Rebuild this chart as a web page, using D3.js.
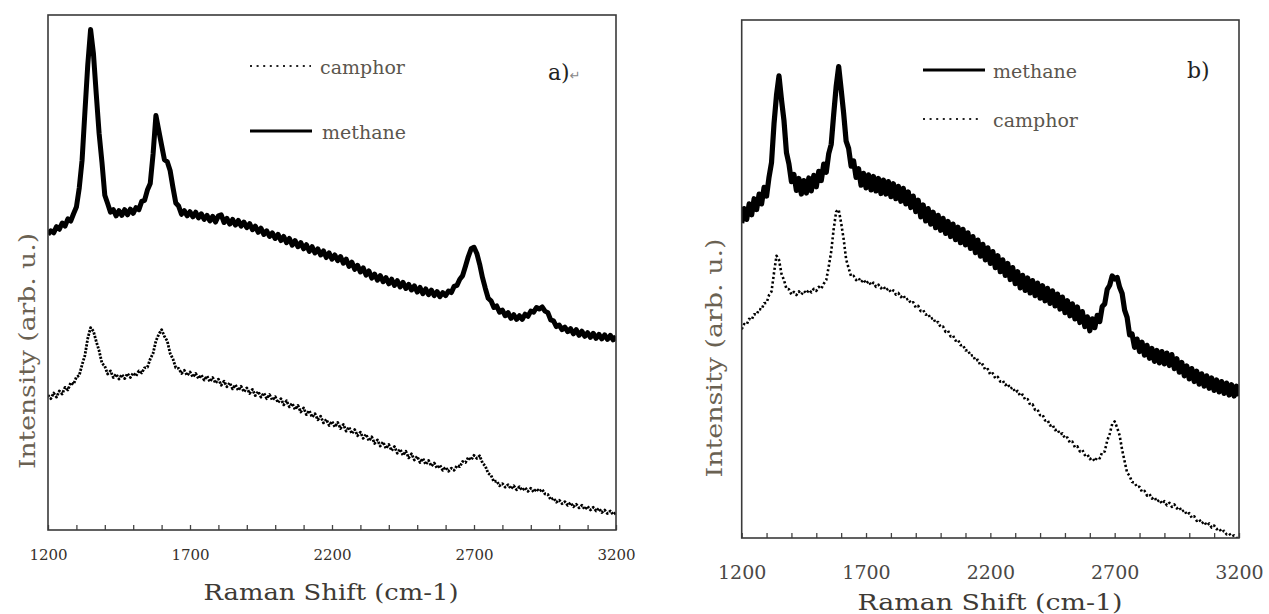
<!DOCTYPE html>
<html>
<head>
<meta charset="utf-8">
<script src="https://cdn.jsdelivr.net/npm/d3@7/dist/d3.min.js"></script>
<style>
  body { margin: 0; background: #fff; }
  svg { display: block; }
  text { font-family: "DejaVu Serif", "Liberation Serif", serif; }
</style>
</head>
<body>
<svg id="fig" width="1269" height="614"></svg>
<script>
// Raman shift sampling (cm-1), one reading every 10 cm-1
const shift = d3.range(1200, 3201, 10);
const majorTicks = [1200, 1700, 2200, 2700, 3200];
const minorTicks = d3.range(1200, 3201, 100);

// intensities, arbitrary units (0..1000 = frame height)
const methaneA = [
  574,581,577,589,584,596,590,604,600,614,
  627,664,718,812,903,972,925,846,770,714,
  650,634,617,622,610,620,611,622,612,623,
  615,626,622,638,640,660,673,730,805,776,
  747,719,715,698,665,635,629,613,620,610,
  618,608,617,606,614,603,611,600,609,598,
  610,612,597,605,594,603,592,601,590,598,
  587,595,583,590,578,586,574,581,570,577,
  566,574,562,570,558,566,553,562,550,558,
  546,554,541,550,538,546,534,542,529,538,
  526,534,523,531,518,526,512,520,506,514,
  501,509,495,503,489,497,485,494,482,490,
  478,487,475,484,472,481,469,477,466,474,
  462,471,459,468,457,466,455,463,453,461,
  455,464,461,473,475,487,494,512,531,546,
  549,537,516,490,469,450,445,432,435,423,
  427,416,422,411,418,409,416,409,419,415,
  425,423,432,429,433,425,422,408,406,395,
  398,389,394,385,391,381,389,378,386,376,
  383,374,382,372,380,371,379,370,378,369,
  376
];
const camphorA = [
  262,255,266,258,270,264,277,272,286,283,
  297,300,321,339,372,393,386,366,348,324,
  318,303,309,296,303,293,302,294,304,296,
  305,299,309,305,315,316,332,343,367,380,
  389,376,367,343,332,315,314,304,310,300,
  307,297,304,294,301,291,299,288,296,285,
  293,281,289,278,286,274,282,271,279,268,
  276,265,273,261,269,258,266,255,263,252,
  259,247,255,243,251,239,246,234,242,229,
  237,224,232,219,226,214,221,208,215,203,
  211,200,209,197,205,192,200,187,195,183,
  190,178,186,173,181,168,175,163,171,158,
  166,154,162,149,157,145,153,140,148,136,
  143,131,139,127,135,124,130,120,126,116,
  122,114,120,116,125,123,133,131,141,136,
  145,139,144,130,124,110,106,94,95,86,
  90,83,88,80,86,78,84,77,82,75,
  81,74,80,75,79,70,69,59,62,54,
  58,51,55,48,53,45,50,43,48,40,
  46,39,44,37,42,34,39,32,37,30,
  34
];
const methaneB = [
  608,636,615,645,624,655,634,664,645,677,
  660,697,725,800,855,892,846,806,744,722,
  688,702,671,694,664,690,666,695,670,700,
  678,708,690,722,706,742,760,818,872,910,
  866,820,766,752,718,728,696,713,681,704,
  676,701,672,698,670,694,665,691,664,688,
  659,684,655,679,650,675,645,668,638,660,
  630,652,620,643,612,636,606,629,599,623,
  594,617,588,611,582,606,576,600,570,596,
  566,589,559,582,551,575,544,567,537,560,
  530,553,522,545,514,537,507,530,499,522,
  491,514,483,507,478,502,473,497,468,492,
  463,487,458,482,453,477,448,471,442,465,
  435,458,429,452,423,446,416,437,408,427,
  400,423,406,430,418,447,452,480,488,506,
  500,503,484,472,440,426,392,394,368,384,
  360,378,353,372,347,366,341,362,338,360,
  336,357,333,354,327,346,320,339,313,332,
  307,327,302,322,297,317,293,313,289,309,
  285,305,282,302,279,299,276,296,274,293,
  274
];
const camphorB = [
  403,413,412,423,421,432,431,442,441,453,
  454,469,476,512,545,537,510,498,481,480,
  470,475,469,476,470,477,472,479,474,481,
  477,485,481,491,498,524,553,597,630,634,
  608,577,538,521,505,506,498,502,494,499,
  491,496,488,493,485,489,482,486,478,482,
  474,478,470,473,465,469,460,462,453,455,
  445,448,438,440,431,433,423,425,415,417,
  407,408,398,400,389,391,381,383,372,373,
  362,363,352,353,342,344,333,335,324,326,
  315,318,308,311,302,304,295,298,288,291,
  281,284,274,277,267,268,257,258,247,248,
  237,238,227,228,217,219,208,210,200,202,
  192,194,184,186,175,177,167,170,160,162,
  152,155,148,156,154,166,167,188,201,220,
  225,213,198,170,148,126,120,108,107,98,
  99,89,91,82,85,76,79,70,74,66,
  71,63,68,60,65,57,60,51,54,45,
  48,39,42,33,36,28,32,24,28,20,
  24,17,19,11,14,7,9,3,5,0,
  0
];

const panels = [
  {
    id: "a", left: 48, right: 616, top: 15, bottom: 530,
    tickFont: 15, tickPad: 19, tickColor: "#35302b",
    solidWidth: 5, dotWidth: 2.8, dotDash: "2.2,1.4",
    xLabel: { x: 331, y: 600, size: 23, len: 255 },
    yLabel: { x: 27, y: 351, size: 22, len: 236 },
    tag: { text: "a)", x: 548, y: 80, size: 22 },
    legend: [
      { name: "camphor", values: camphorA, dotted: true, x1: 250, x2: 311, y: 66, tx: 320, ty: 74 },
      { name: "methane", values: methaneA, dotted: false, x1: 250, x2: 312, y: 131, tx: 322, ty: 139 }
    ]
  },
  {
    id: "b", left: 741.7, right: 1239, top: 20, bottom: 538,
    tickFont: 19, tickPad: 28, tickColor: "#4a4846",
    solidWidth: 5.2, dotWidth: 2.6, dotDash: "2.2,2.4",
    xLabel: { x: 990, y: 610, size: 23, len: 265 },
    yLabel: { x: 714, y: 358, size: 22, len: 239 },
    tag: { text: "b)", x: 1187, y: 78, size: 22 },
    legend: [
      { name: "methane", values: methaneB, dotted: false, x1: 923, x2: 985, y: 70, tx: 993, ty: 78 },
      { name: "camphor", values: camphorB, dotted: true, x1: 923, x2: 980, y: 119, tx: 993, ty: 127 }
    ]
  }
];

const svg = d3.select("#fig");
const textColor = "#5b564e";

panels.forEach(p => {
  const x = d3.scaleLinear().domain([1200, 3200]).range([p.left, p.right]);
  const y = d3.scaleLinear().domain([0, 1000]).range([p.bottom, p.top]);
  const g = svg.append("g").attr("class", "panel-" + p.id);

  g.append("clipPath").attr("id", "clip-" + p.id)
    .append("rect")
    .attr("x", p.left).attr("y", p.top)
    .attr("width", p.right - p.left).attr("height", p.bottom - p.top);

  // series
  const line = d3.line().x((d, i) => x(shift[i])).y(d => y(d));
  p.legend.forEach(s => {
    g.append("path")
      .datum(s.values)
      .attr("clip-path", `url(#clip-${p.id})`)
      .attr("fill", "none")
      .attr("stroke", "#000")
      .attr("stroke-width", s.dotted ? p.dotWidth : p.solidWidth)
      .attr("stroke-dasharray", s.dotted ? p.dotDash : null)
      .attr("stroke-linejoin", "round")
      .attr("d", line);
  });

  // x axis, ticks pointing inward
  const axis = d3.axisBottom(x)
    .tickValues(minorTicks)
    .tickSizeInner(-5)
    .tickSizeOuter(0)
    .tickPadding(p.tickPad)
    .tickFormat(d => majorTicks.includes(d) ? d : "");
  const ax = g.append("g").attr("transform", `translate(0,${p.bottom})`).call(axis);
  ax.select(".domain").remove();
  ax.selectAll(".tick line").attr("stroke", "#444").attr("stroke-width", 1.3);
  ax.selectAll(".tick text")
    .attr("font-family", "'DejaVu Serif', serif")
    .attr("font-size", p.tickFont)
    .attr("fill", p.tickColor);

  // frame
  g.append("rect")
    .attr("x", p.left).attr("y", p.top)
    .attr("width", p.right - p.left).attr("height", p.bottom - p.top)
    .attr("fill", "none").attr("stroke", "#3a3a3a").attr("stroke-width", 1.6);

  // axis titles
  g.append("text")
    .attr("x", p.xLabel.x).attr("y", p.xLabel.y)
    .attr("text-anchor", "middle")
    .attr("font-size", p.xLabel.size)
    .attr("textLength", p.xLabel.len).attr("lengthAdjust", "spacingAndGlyphs")
    .attr("fill", "#3e3a35")
    .text("Raman Shift (cm-1)");

  g.append("text")
    .attr("transform", `translate(${p.yLabel.x},${p.yLabel.y}) rotate(-90)`)
    .attr("text-anchor", "middle")
    .attr("dy", "0.35em")
    .attr("font-size", p.yLabel.size)
    .attr("textLength", p.yLabel.len).attr("lengthAdjust", "spacingAndGlyphs")
    .attr("fill", "#6a6152")
    .text("Intensity (arb. u.)");

  // legend
  p.legend.forEach(s => {
    g.append("line")
      .attr("x1", s.x1).attr("x2", s.x2).attr("y1", s.y).attr("y2", s.y)
      .attr("stroke", s.dotted ? "#222" : "#000")
      .attr("stroke-width", s.dotted ? 2.2 : 3)
      .attr("stroke-dasharray", s.dotted ? "2,4.6" : null);
    g.append("text")
      .attr("x", s.tx).attr("y", s.ty)
      .attr("font-size", 19)
      .attr("fill", textColor)
      .text(s.name);
  });

  // panel tag
  const tag = g.append("text")
    .attr("x", p.tag.x).attr("y", p.tag.y)
    .attr("font-size", p.tag.size)
    .attr("fill", "#222")
    .text(p.tag.text);
  if (p.id === "a") {
    tag.append("tspan").attr("font-size", 13).attr("fill", "#888")
      .attr("font-family", "'DejaVu Sans', sans-serif").text("\u21B5");
  }
});
</script>
</body>
</html>
